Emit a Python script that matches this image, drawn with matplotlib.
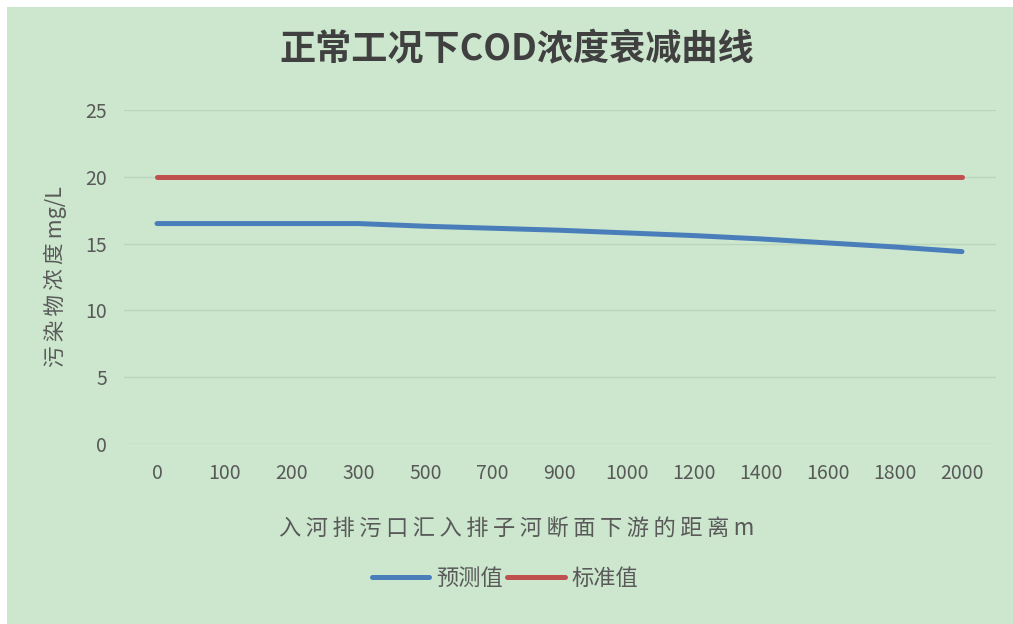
import matplotlib
matplotlib.use("Agg")
import matplotlib.pyplot as plt
from matplotlib.patches import Rectangle

plt.rcParams['font.family'] = ['Noto Sans CJK SC', 'DejaVu Sans']

# Data
distances = ['0', '100', '200', '300', '500', '700', '900', '1000',
             '1200', '1400', '1600', '1800', '2000']
predicted = [16.5, 16.5, 16.5, 16.5, 16.3, 16.15, 16.0, 15.8,
             15.6, 15.35, 15.05, 14.75, 14.4]
standard = [20] * len(distances)
y_ticks = [0, 5, 10, 15, 20, 25]

title = '正常工况下COD浓度衰减曲线'
x_label = '入河排污口汇入排子河断面下游的距离m'
y_label_name, y_label_unit = '污染物浓度', 'mg/L'
series_names = ['预测值', '标准值']

BG = '#cce7cd'
GRID = '#b9d6ba'
TEXT = '#595959'
BLUE = '#4a7ebb'
RED = '#c0504d'

W, H = 1013, 624
fig = plt.figure(figsize=(W / 100, H / 100), dpi=100)
fig.patch.set_facecolor('white')
fig.add_artist(Rectangle((7 / W, 0), 1 - 7 / W, 1 - 7 / H,
                         transform=fig.transFigure, facecolor=BG,
                         edgecolor='none', zorder=-10))


def spaced(s, sep='\u2009'):
    """Open up the letter spacing of a label with thin spaces."""
    return sep.join(s)


ax = fig.add_axes([123.5 / W, 180 / H, 872 / W, 334 / H])
ax.set_facecolor('none')

x = list(range(len(distances)))
ax.plot(x, predicted, color=BLUE, lw=3.6, solid_capstyle='round',
        label=series_names[0], zorder=3)
ax.plot(x, standard, color=RED, lw=3.6, solid_capstyle='round',
        label=series_names[1], zorder=3)

ax.set_xlim(-0.5, len(distances) - 0.5)
ax.set_ylim(0, 25)
ax.set_yticks(y_ticks)
ax.set_xticks(x)
ax.set_xticklabels(distances)
ax.grid(axis='y', color=GRID, lw=1)
ax.set_axisbelow(True)
for sp in ax.spines.values():
    sp.set_visible(False)
ax.tick_params(length=0, colors=TEXT, labelsize=14)
ax.tick_params(axis='x', pad=14)
ax.tick_params(axis='y', pad=12)

fig.text(517 / W, 1 - 50 / H, title, ha='center', va='center',
         fontsize=26, fontweight='bold', color='#404040')
fig.text(517 / W, 1 - 528 / H, spaced(x_label), ha='center',
         va='center', fontsize=16, color=TEXT)
fig.text(55 / W, 1 - 277 / H,
         spaced(y_label_name) + '\u2009' + y_label_unit,
         ha='center', va='center', rotation=90, fontsize=15.5, color=TEXT)

fig.legend(loc='center', bbox_to_anchor=(505 / W, 1 - 578 / H), ncol=2,
           frameon=False, fontsize=16, handlelength=2.6, handletextpad=0.3,
           columnspacing=0.2, labelcolor=TEXT)

fig.savefig('out.png', dpi=100, facecolor='white')
